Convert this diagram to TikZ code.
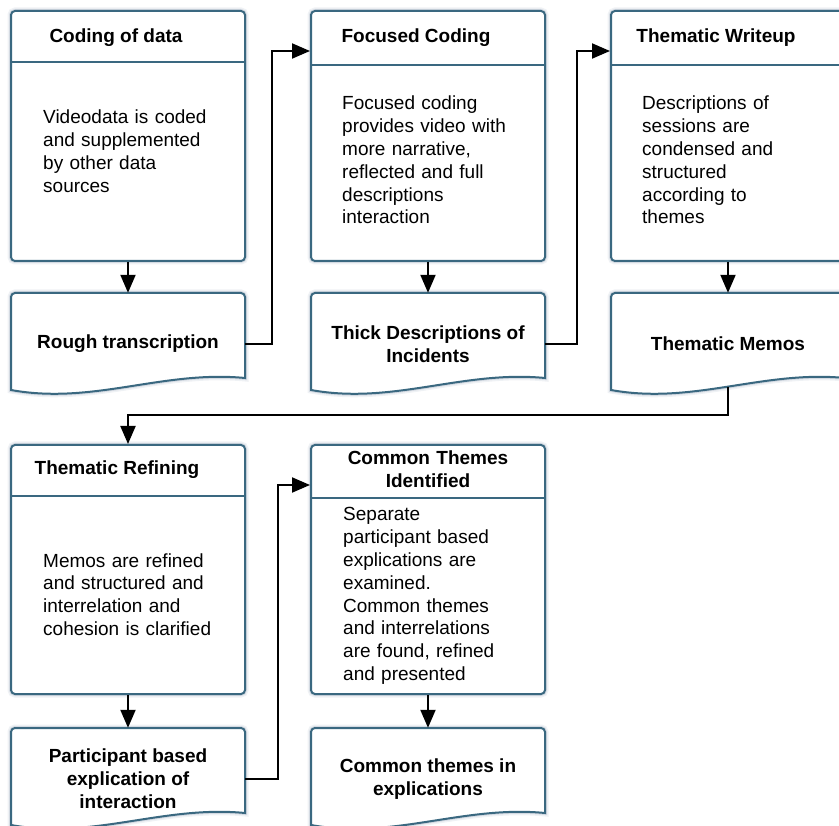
\documentclass[tikz,border=0pt]{standalone}
\usepackage{fontspec}
\setmainfont{Liberation Sans}
\usetikzlibrary{arrows.meta}
\definecolor{boxline}{RGB}{58,104,128}
\definecolor{glow}{RGB}{150,165,185}

\begin{document}
\begin{tikzpicture}[x=1pt, y=1pt,
    glowing/.style={preaction={draw=glow, line width=7pt, opacity=.15},
                    preaction={draw=glow, line width=4pt, opacity=.3}},
    stepbox/.style={draw=boxline, line width=2pt, fill=white, rounded corners=4pt,
                    glowing, minimum width=234pt, inner sep=0pt},
    headline/.style={draw=boxline, line width=1.5pt},
    docline/.style={draw=boxline, line width=2pt, fill=white, glowing},
    doctext/.style={minimum width=234pt, minimum height=102pt, inner sep=0pt,
                    align=center, font=\fontsize{19}{22.8}\selectfont\bfseries},
    title/.style={inner sep=0pt, align=center, font=\fontsize{19}{22.8}\selectfont\bfseries},
    bodytext/.style={inner sep=0pt, text width=200pt, align=left,
                    font=\fontsize{19}{22.8}\selectfont},
    flow/.style={line width=2pt, -{Triangle[length=18pt, width=15pt]}}]

    \useasboundingbox (0,0) rectangle (839,-826);

    % Process boxes
    \node[stepbox, minimum height=250pt] (code) at (128,-136) {};
    \node[stepbox, minimum height=250pt] (focus) at (428,-136) {};
    \node[stepbox, minimum height=250pt] (writeup) at (728,-136) {};
    \node[stepbox, minimum height=249pt] (refine) at (128,-569.5) {};
    \node[stepbox, minimum height=249pt] (common) at (428,-569.5) {};

    % Header lines
    \draw[headline] ([yshift=-52pt]code.north west) -- ([yshift=-52pt]code.north east);
    \draw[headline] ([yshift=-55pt]focus.north west) -- ([yshift=-55pt]focus.north east);
    \draw[headline] ([yshift=-55pt]writeup.north west) -- ([yshift=-55pt]writeup.north east);
    \draw[headline] ([yshift=-52pt]refine.north west) -- ([yshift=-52pt]refine.north east);
    \draw[headline] ([yshift=-54pt]common.north west) -- ([yshift=-54pt]common.north east);

    % Titles
    \node[title, anchor=base] (codetitle) at (116,-43) {Coding of data};
    \node[title, anchor=base] (focustitle) at (416,-43) {Focused Coding};
    \node[title, anchor=base] (writeuptitle) at (716,-43) {Thematic Writeup};
    \node[title, anchor=base] (refinetitle) at (117,-475) {Thematic Refining};
    \node[title, text width=220pt, anchor=base] (commontitle) at (428,-465)
        {Common Themes\\Identified};

    % Box texts
    \node[bodytext, anchor=base west] (codetext) at (43,-124)
        {Videodata is coded\\and supplemented\\by other data\\sources};
    \node[bodytext, anchor=base west] (focustext) at (342,-110)
        {Focused coding\\provides video with\\more narrative,\\reflected and full\\descriptions\\interaction};
    \node[bodytext, anchor=base west] (writeuptext) at (642,-110)
        {Descriptions of\\sessions are\\condensed and\\structured\\according to\\themes};
    \node[bodytext, anchor=base west] (refinetext) at (43,-567)
        {Memos are refined\\and structured and\\interrelation and\\cohesion is clarified};
    \node[bodytext, anchor=base west] (commontext) at (343,-521)
        {Separate\\participant based\\explications are\\examined.\\Common themes\\and interrelations\\are found, refined\\and presented};

    % Document shapes
    \foreach \cx/\ty in {128/293, 428/293, 728/293, 128/728, 428/728} {
        \draw[docline] (\cx-117,-\ty-97) [rounded corners=4pt] -- (\cx-117,-\ty)
            -- (\cx+117,-\ty) [sharp corners] -- (\cx+117,-\ty-85)
            .. controls (\cx+35,-\ty-77) and (\cx-35,-\ty-112) .. (\cx-117,-\ty-97) -- cycle;
    }

    % Document texts
    \node[doctext] (rough) at (128,-344) {Rough transcription};
    \node[doctext] (thick) at (428,-344) {Thick Descriptions of\\Incidents};
    \node[doctext] (memos) at (728,-344) {Thematic Memos};
    \node[doctext] (part) at (128,-779) {Participant based\\explication of\\interaction};
    \node[doctext] (themes) at (428,-779) {Common themes in\\explications};

    % Connectors
    \draw[flow] (code) -- (rough);
    \draw[flow] (focus) -- (thick);
    \draw[flow] (writeup) -- (memos);
    \draw[flow] (rough.east) -- ++(27,0) |- ([yshift=-41pt]focus.north west);
    \draw[flow] (thick.east) -- ++(32,0) |- ([yshift=-41pt]writeup.north west);
    \draw[flow] ([yshift=8pt]memos.south) -- ++(0,-28) -| (refine.north);
    \draw[flow] (refine) -- (part);
    \draw[flow] (part.east) -- ++(33,0) |- ([yshift=-41pt]common.north west);
    \draw[flow] (common) -- (themes);
\end{tikzpicture}
\end{document}
